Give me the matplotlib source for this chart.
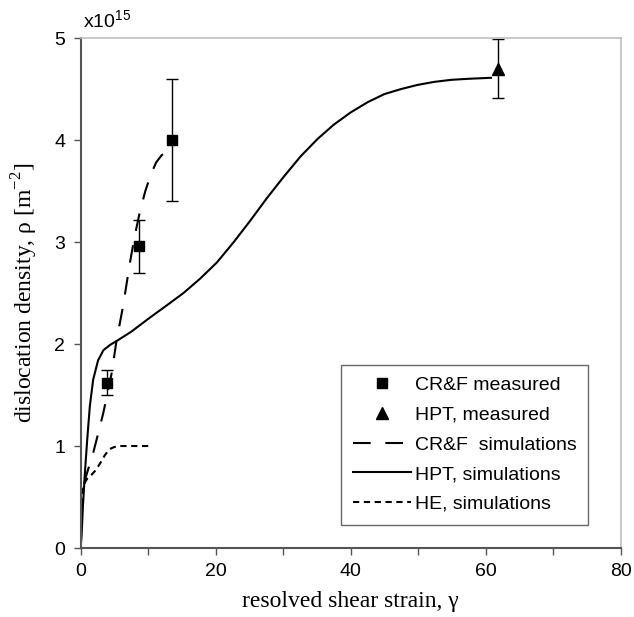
import matplotlib
matplotlib.use("Agg")
import matplotlib.pyplot as plt
from matplotlib.ticker import MultipleLocator
from matplotlib.lines import Line2D

# ---- data (strain, density in units of 1e15 m^-2) ----
crf_meas_x = [3.9, 8.7, 13.6]
crf_meas_y = [1.62, 2.96, 4.0]
crf_meas_lo = [0.12, 0.26, 0.60]
crf_meas_hi = [0.13, 0.26, 0.60]

hpt_meas_x = [61.9]
hpt_meas_y = [4.70]
hpt_meas_err = [0.29]

crf_sim_x = [0.0, 0.15, 0.8, 1.87, 2.6, 3.36, 4.0, 4.6, 5.35, 6.3, 7.3, 8.0, 8.8, 9.6,
             10.4, 11.2, 12.0, 13.0]
crf_sim_y = [0.0, 0.50, 0.70, 0.93, 1.12, 1.32, 1.52, 1.71, 2.04, 2.37, 2.79, 3.05,
             3.30, 3.50, 3.66, 3.78, 3.85, 3.90]

hpt_sim_x = [0.0, 0.15, 0.35, 0.64, 1.0, 1.38, 1.87, 2.6, 3.4, 4.35, 5.6, 7.5, 10.3,
             12.8, 15.25, 17.7, 20.2, 22.7, 25.15, 27.6, 30.1, 32.6, 35.1, 37.5, 40.0,
             42.5, 45.0, 47.5, 49.9, 52.4, 54.9, 57.4, 60.8]
hpt_sim_y = [0.0, 0.11, 0.40, 0.73, 1.07, 1.39, 1.65, 1.84, 1.94, 1.99, 2.04, 2.12,
             2.26, 2.38, 2.50, 2.64, 2.80, 3.00, 3.21, 3.43, 3.64, 3.84, 4.01, 4.15,
             4.27, 4.37, 4.45, 4.50, 4.54, 4.57, 4.59, 4.60, 4.61]

he_sim_x = [0.0, 0.2, 0.5, 1.0, 1.4, 2.2, 2.9, 3.6, 4.3, 5.0, 5.5, 7.0, 10.3]
he_sim_y = [0.0, 0.50, 0.63, 0.68, 0.70, 0.76, 0.83, 0.91, 0.97, 0.99, 1.00, 1.00, 1.00]

x_ticks = [0, 20, 40, 60, 80]
y_ticks = [0, 1, 2, 3, 4, 5]

plt.rcParams['font.family'] = ['Liberation Sans', 'DejaVu Sans']

fig = plt.figure(figsize=(6.34, 6.17), dpi=100)
ax = fig.add_axes([0.127, 0.1118, 0.852, 0.8266])

crf_dash = (8.5, 7.0)
he_dash = (3.0, 2.2)

ax.plot(crf_sim_x, crf_sim_y, color='black', lw=1.5, dashes=crf_dash)
ax.plot(hpt_sim_x, hpt_sim_y, color='black', lw=1.5)
ax.plot(he_sim_x, he_sim_y, color='black', lw=1.5, dashes=he_dash)

ax.errorbar(crf_meas_x, crf_meas_y, yerr=[crf_meas_lo, crf_meas_hi], fmt='s',
            color='black', ms=7, lw=1.0, capsize=4, capthick=1.0)
ax.errorbar(hpt_meas_x, hpt_meas_y, yerr=hpt_meas_err, fmt='^',
            color='black', ms=8, lw=1.0, capsize=4, capthick=1.0)

ax.set_xlim(0, 80)
ax.set_ylim(0, 5)
ax.set_xticks(x_ticks)
ax.xaxis.set_minor_locator(MultipleLocator(10))
ax.set_yticks(y_ticks)
ax.tick_params(axis='both', which='both', direction='out', length=5, width=1,
               color='#555555', labelsize=14, pad=6)

for s in ['left', 'bottom']:
    ax.spines[s].set_color('#555555')
    ax.spines[s].set_linewidth(1.5)
for s in ['top', 'right']:
    ax.spines[s].set_color('#c0c0c0')
    ax.spines[s].set_linewidth(1.2)

ax.set_xlabel('resolved shear strain, γ', family='Liberation Serif', fontsize=17,
              labelpad=8)
ax.set_ylabel(r'dislocation density, ρ [m$^{\mathregular{-2}}$]',
              family='Liberation Serif', fontsize=17, labelpad=10)

fig.text(0.131, 0.948, r'x10$^{\mathregular{15}}$', fontsize=14, ha='left', va='bottom')

handles = [
    Line2D([], [], marker='s', color='black', ls='none', ms=7),
    Line2D([], [], marker='^', color='black', ls='none', ms=8),
    Line2D([], [], color='black', lw=1.5, dashes=crf_dash),
    Line2D([], [], color='black', lw=1.5),
    Line2D([], [], color='black', lw=1.5, dashes=he_dash),
]
labels = ['CR&F measured', 'HPT, measured', 'CR&F  simulations',
          'HPT, simulations', 'HE, simulations']
leg = ax.legend(handles, labels,
                loc='upper left', bbox_to_anchor=(0.482, 0.359),
                fontsize=14, frameon=True, fancybox=False,
                edgecolor='#444444', handlelength=3.0, labelspacing=0.62,
                handletextpad=0.2, borderpad=0.6, borderaxespad=0)
leg.get_frame().set_linewidth(1.0)

fig.savefig('out.png', dpi=100)
